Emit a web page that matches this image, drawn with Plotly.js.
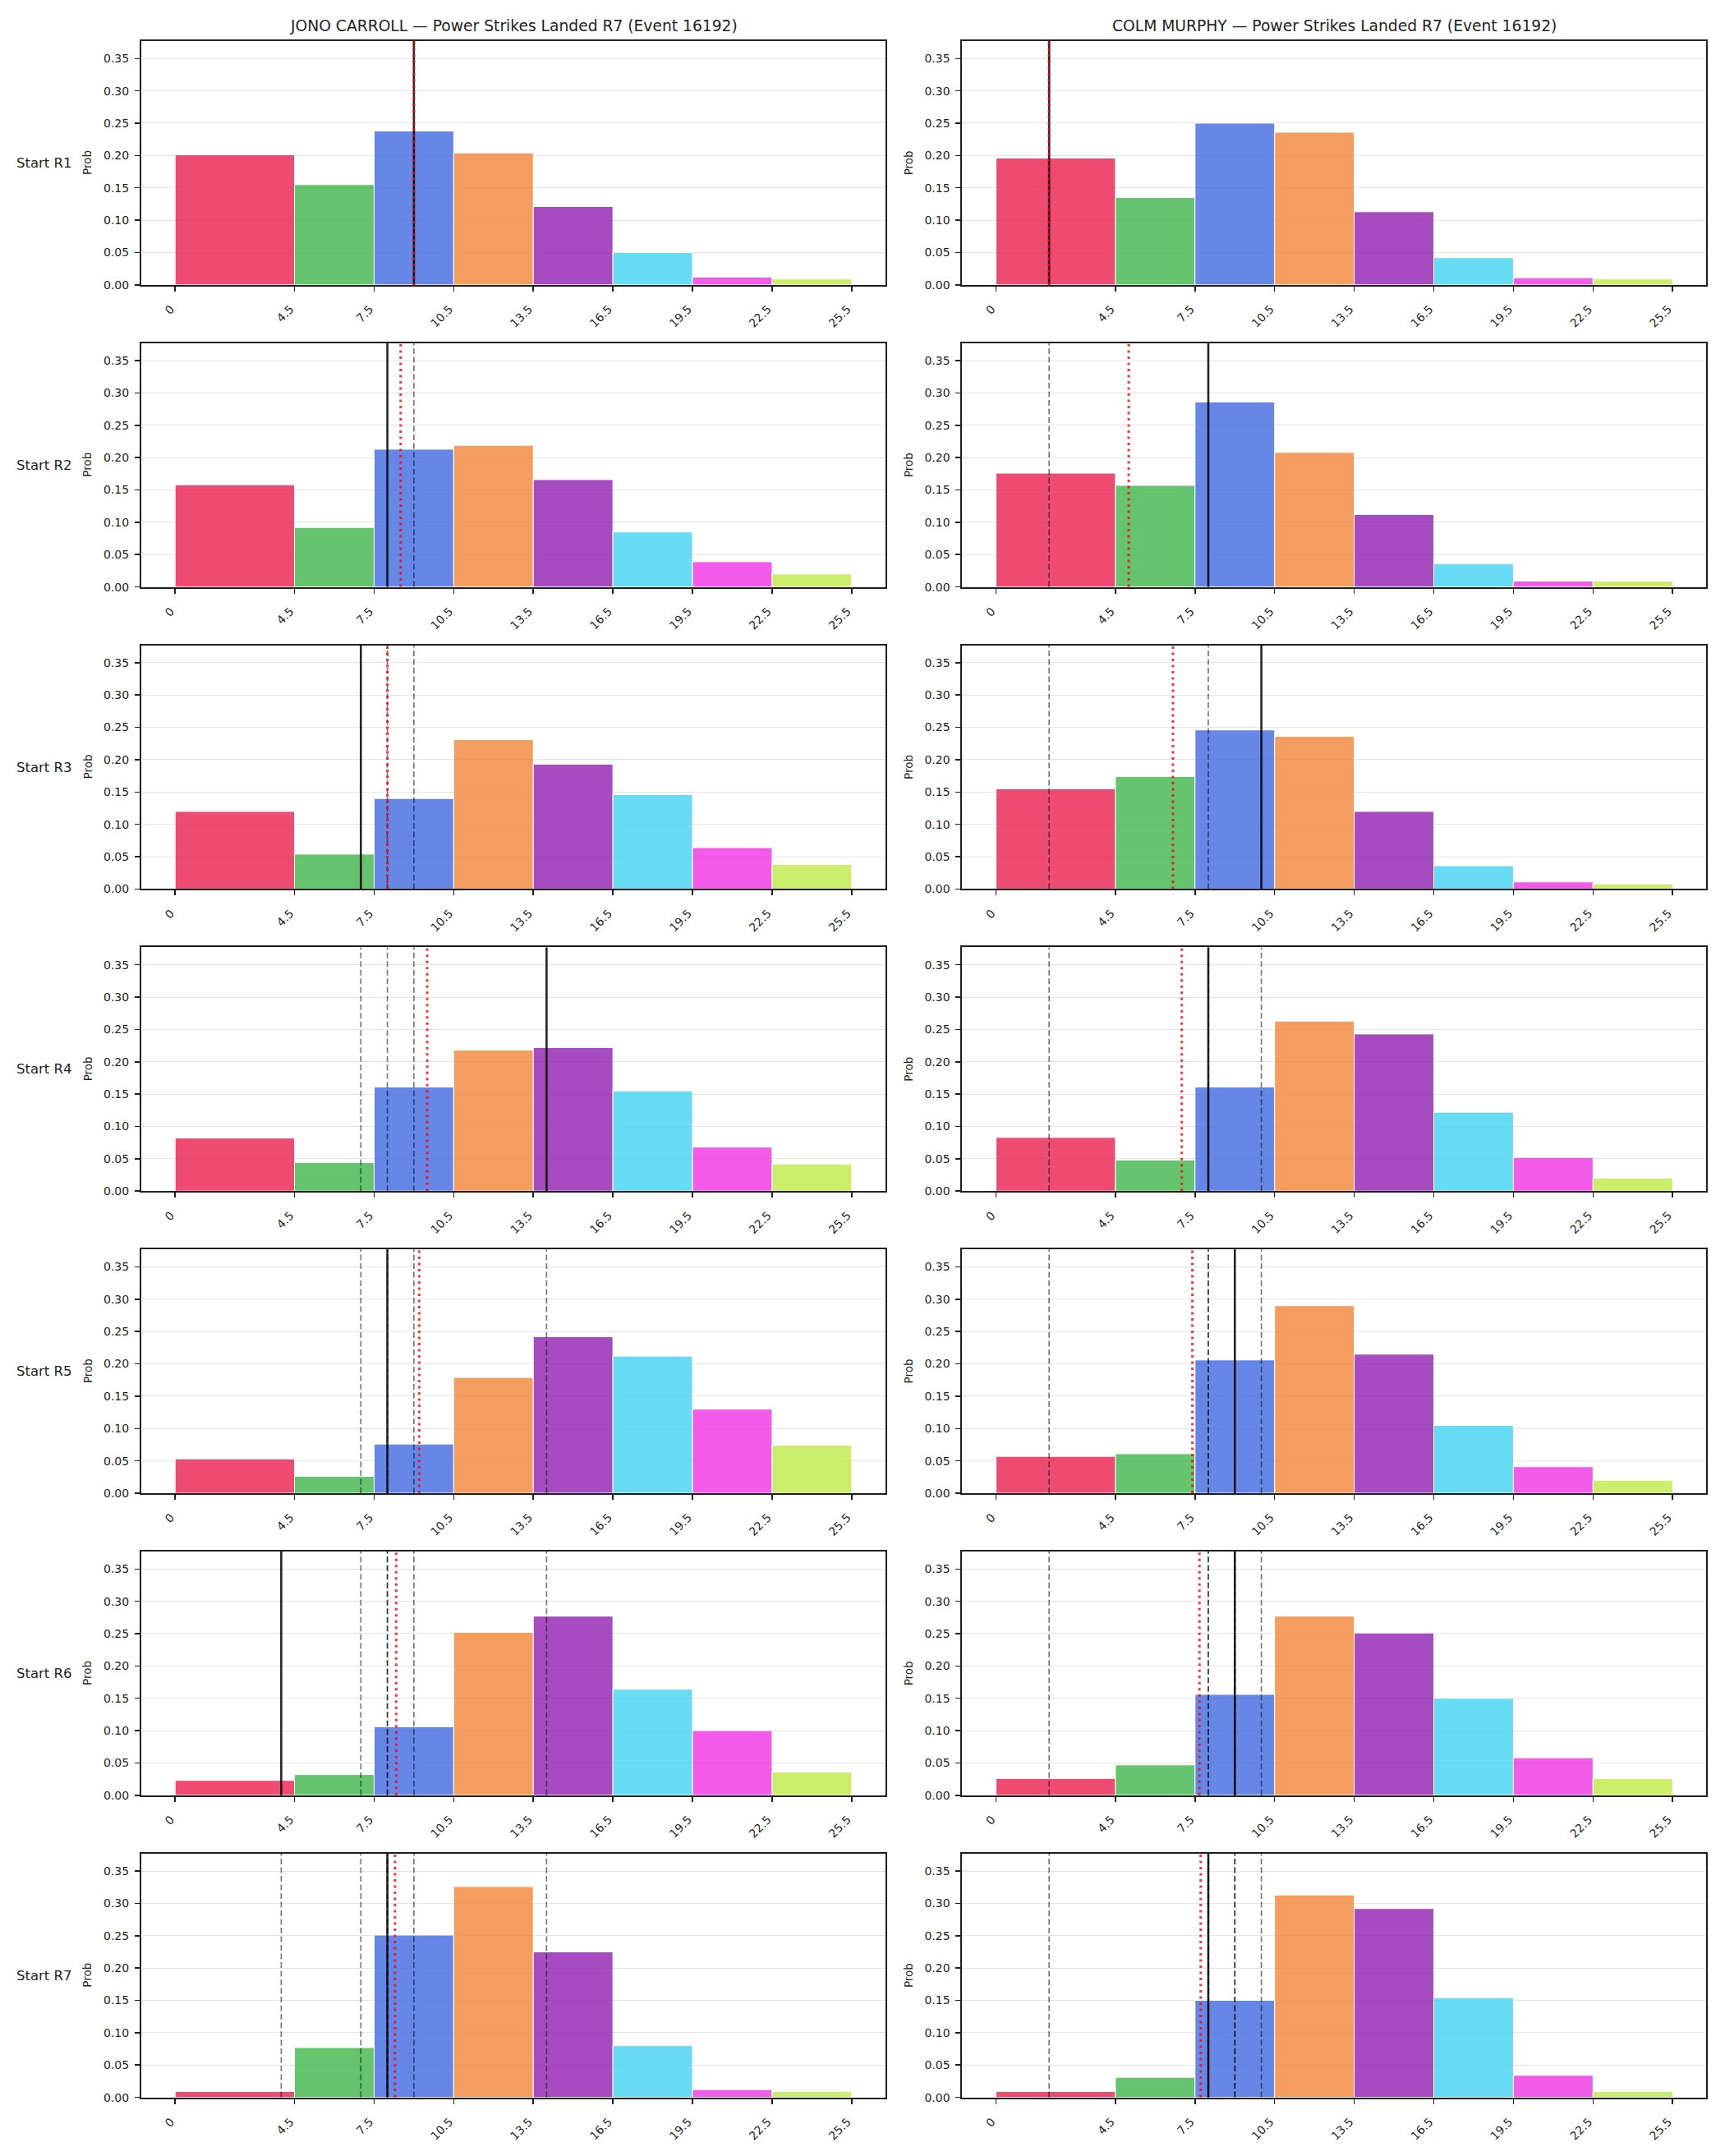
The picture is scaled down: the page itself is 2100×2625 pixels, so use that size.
<!DOCTYPE html>
<html>
<head>
<meta charset="utf-8">
<script src="https://cdn.plot.ly/plotly-3.0.1.min.js"></script>
<style>
  html, body { margin: 0; padding: 0; background: #ffffff; }
  #chart { width: 2100px; height: 2625px; }
</style>
</head>
<body>
<div id="chart"></div>
<script>
// Strike-count bins (edges) and their tick labels
const binEdges = [0, 4.5, 7.5, 10.5, 13.5, 16.5, 19.5, 22.5, 25.5];
const tickLabels = ['0', '4.5', '7.5', '10.5', '13.5', '16.5', '19.5', '22.5', '25.5'];
const yTicks = [0, 0.05, 0.10, 0.15, 0.20, 0.25, 0.30, 0.35];
const rowLabels = ['Start R1', 'Start R2', 'Start R3', 'Start R4', 'Start R5', 'Start R6', 'Start R7'];
const fighterNames = ['JONO CARROLL', 'COLM MURPHY'];

// Power strikes landed in each round (R1..R7)
const jonoRoundStrikes = [9, 8, 7, 14, 8, 4, 8];
const colmRoundStrikes = [2, 8, 10, 8, 9, 9, 8];

// Probability of each bin for R7, starting from a given round
const jonoStartR1 = [0.201, 0.155, 0.238, 0.204, 0.121, 0.050, 0.012, 0.009];
const jonoStartR2 = [0.158, 0.092, 0.213, 0.219, 0.166, 0.085, 0.039, 0.020];
const jonoStartR3 = [0.120, 0.054, 0.140, 0.231, 0.193, 0.146, 0.064, 0.038];
const jonoStartR4 = [0.082, 0.044, 0.161, 0.218, 0.222, 0.155, 0.068, 0.042];
const jonoStartR5 = [0.053, 0.026, 0.076, 0.179, 0.242, 0.212, 0.130, 0.074];
const jonoStartR6 = [0.023, 0.032, 0.106, 0.252, 0.277, 0.164, 0.100, 0.036];
const jonoStartR7 = [0.009, 0.077, 0.251, 0.326, 0.225, 0.080, 0.012, 0.009];

const colmStartR1 = [0.196, 0.135, 0.250, 0.236, 0.113, 0.042, 0.011, 0.009];
const colmStartR2 = [0.176, 0.157, 0.286, 0.208, 0.112, 0.036, 0.009, 0.009];
const colmStartR3 = [0.155, 0.174, 0.246, 0.236, 0.120, 0.036, 0.011, 0.008];
const colmStartR4 = [0.083, 0.048, 0.161, 0.263, 0.243, 0.122, 0.052, 0.020];
const colmStartR5 = [0.057, 0.061, 0.206, 0.290, 0.215, 0.105, 0.041, 0.020];
const colmStartR6 = [0.026, 0.047, 0.156, 0.277, 0.251, 0.150, 0.058, 0.026];
const colmStartR7 = [0.009, 0.031, 0.150, 0.313, 0.292, 0.154, 0.034, 0.009];

const binColors = [
  'rgba(234, 30, 80, 0.8)',
  'rgba(64, 181, 75, 0.8)',
  'rgba(65, 105, 225, 0.8)',
  'rgba(242, 132, 54, 0.8)',
  'rgba(144, 31, 176, 0.8)',
  'rgba(66, 210, 242, 0.8)',
  'rgba(239, 51, 227, 0.8)',
  'rgba(190, 235, 69, 0.8)'
];

const panels = [
  [jonoStartR1, jonoStartR2, jonoStartR3, jonoStartR4, jonoStartR5, jonoStartR6, jonoStartR7],
  [colmStartR1, colmStartR2, colmStartR3, colmStartR4, colmStartR5, colmStartR6, colmStartR7]
];
const roundStrikes = [jonoRoundStrikes, colmRoundStrikes];

// Figure geometry (pixels)
const W = 2100, H = 2625;
const rowTop0 = 50, rowPitch = 367.8, plotH = 296.8;
const colLeft = [172, 1171.4], plotW = 906;
const FONT = 'DejaVu Sans, Verdana, sans-serif';
const INK = '#1f1f1f';

const barCenters = binEdges.slice(0, -1).map((e, i) => (e + binEdges[i + 1]) / 2);
const barWidths = binEdges.slice(0, -1).map((e, i) => binEdges[i + 1] - e);

const data = [];
const layout = {
  width: W, height: H,
  margin: { l: 0, r: 0, t: 0, b: 0, autoexpand: false },
  paper_bgcolor: '#ffffff',
  plot_bgcolor: '#ffffff',
  showlegend: false,
  bargap: 0,
  font: { family: FONT, color: INK, size: 14 },
  shapes: [],
  annotations: []
};

let n = 0;
for (let c = 0; c < 2; c++) {
  for (let r = 0; r < 7; r++) {
    n++;
    const xa = 'x' + n, ya = 'y' + n;
    const xKey = 'xaxis' + n, yKey = 'yaxis' + n;
    const top = rowTop0 + r * rowPitch;
    const bottom = top + plotH;

    data.push({
      type: 'bar',
      x: barCenters,
      y: panels[c][r],
      width: barWidths,
      xaxis: xa, yaxis: ya,
      marker: { color: binColors, line: { color: '#ffffff', width: 1 } },
      hoverinfo: 'x+y'
    });

    layout[xKey] = {
      domain: [colLeft[c] / W, (colLeft[c] + plotW) / W],
      anchor: ya,
      range: [-1.275, 26.775],
      tickmode: 'array',
      tickvals: binEdges,
      ticktext: tickLabels,
      tickangle: -45,
      ticks: 'outside', ticklen: 6, tickwidth: 1.5, tickcolor: INK,
      tickfont: { family: FONT, size: 14, color: INK },
      ticklabelstandoff: 8,
      ticklabelshift: -5,
      showgrid: false, zeroline: false,
      showline: true, linecolor: INK, linewidth: 2, mirror: true
    };
    layout[yKey] = {
      domain: [1 - bottom / H, 1 - top / H],
      anchor: xa,
      range: [0, 0.377],
      tickmode: 'array',
      tickvals: yTicks,
      ticktext: yTicks.map(v => v.toFixed(2)),
      ticks: 'outside', ticklen: 6, tickwidth: 1.5, tickcolor: INK,
      tickfont: { family: FONT, size: 14, color: INK },
      ticklabelstandoff: 4,
      showgrid: true, gridcolor: '#e4e4e4', gridwidth: 1,
      zeroline: false,
      showline: true, linecolor: INK, linewidth: 2, mirror: true
    };

    // "Prob" axis label
    layout.annotations.push({
      xref: 'paper', yref: 'paper',
      x: (colLeft[c] - 65.5) / W, y: 1 - (top + plotH / 2) / H,
      xanchor: 'center', yanchor: 'middle',
      text: 'Prob', textangle: -90, showarrow: false,
      font: { family: FONT, size: 13.5, color: INK }
    });

    // Row label on the left column
    if (c === 0) {
      layout.annotations.push({
        xref: 'paper', yref: 'paper',
        x: 90 / W, y: 1 - (top + plotH / 2) / H,
        xanchor: 'right', yanchor: 'middle',
        text: rowLabels[r], showarrow: false,
        font: { family: FONT, size: 16.5, color: INK }
      });
    }

    // Vertical markers: earlier rounds (dashed), this round (solid), running mean (dotted)
    const strikes = roundStrikes[c];
    const vline = (xv, line) => ({
      type: 'line', layer: 'above',
      xref: xa, yref: ya + ' domain',
      x0: xv, x1: xv, y0: 0, y1: 1,
      line: line
    });
    for (let j = 0; j < r; j++) {
      layout.shapes.push(vline(strikes[j], { color: 'rgba(0,0,0,0.52)', width: 1.7, dash: '7px,3.5px' }));
    }
    layout.shapes.push(vline(strikes[r], { color: 'rgba(0,0,0,0.85)', width: 2.6 }));
    const seen = strikes.slice(0, r + 1);
    const mean = seen.reduce((a, b) => a + b, 0) / seen.length;
    layout.shapes.push(vline(mean, { color: 'rgba(255,0,0,0.8)', width: 3, dash: '3px,4.5px' }));
  }
  // Column title
  layout.annotations.push({
    xref: 'paper', yref: 'paper',
    x: (colLeft[c] + plotW / 2) / W, y: 1 - 31 / H,
    xanchor: 'center', yanchor: 'middle',
    text: fighterNames[c] + ' \u2014 Power Strikes Landed R7 (Event 16192)',
    showarrow: false,
    font: { family: FONT, size: 18.7, color: INK }
  });
}

Plotly.newPlot('chart', data, layout, { staticPlot: true, displayModeBar: false });
</script>
</body>
</html>
